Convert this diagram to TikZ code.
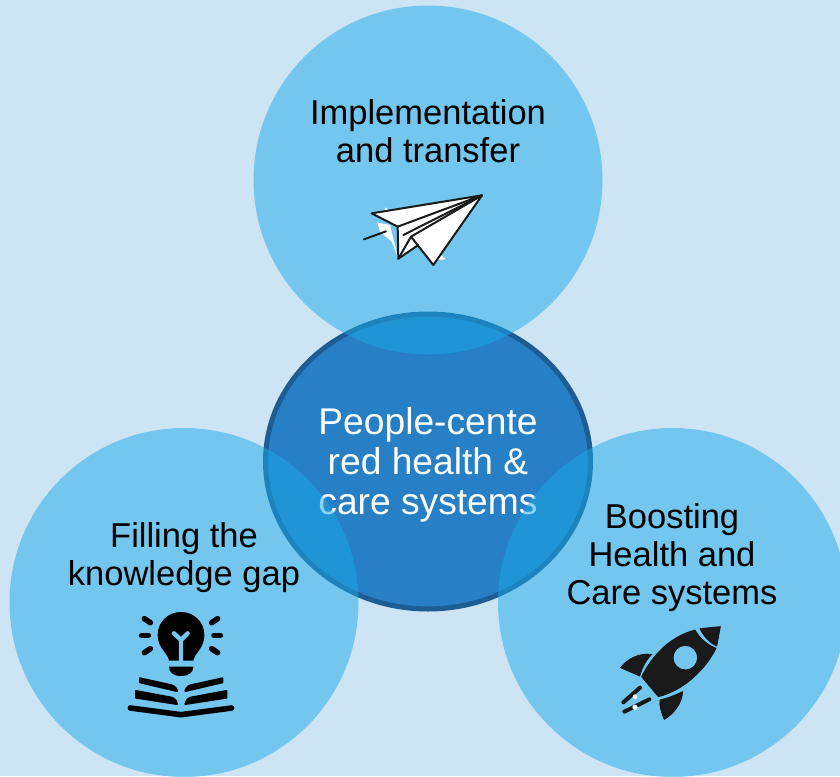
\documentclass[tikz,border=0pt]{standalone}
\usepackage{fontspec}
\setmainfont{Liberation Sans}
\usetikzlibrary{shapes.geometric}
\definecolor{bgc}{RGB}{205,228,245}
\definecolor{petal}{RGB}{27,170,231}
\definecolor{hub}{RGB}{39,128,198}
\definecolor{hubline}{RGB}{30,92,148}
\definecolor{ink}{RGB}{0,0,0}
\definecolor{rock}{RGB}{26,26,26}
\definecolor{petalon}{RGB}{116,199,238}
\tikzset{
  petalc/.style={circle,fill=petal,fill opacity=.5,draw=none,minimum size=349pt,inner sep=0pt},
  hubc/.style={ellipse,fill=hub,draw=hubline,line width=5pt,minimum width=325pt,minimum height=295pt,inner sep=0pt},
  lab/.style={align=center,text=ink,font=\fontsize{34.5}{38}\selectfont,inner sep=0pt},
  hublab/.style={align=center,text=white,font=\fontsize{37.2}{40}\selectfont,inner sep=0pt},
  ic/.style={line width=5.6pt,line cap=round,draw=black},
  pl/.style={draw=rock,line width=2pt,line join=round,line cap=round},
  pg/.style={fill=black,draw=black,line width=2pt,line join=round},
  rk/.style={fill=rock,draw=rock,line width=.9pt,line join=round},
}
\begin{document}
\begin{tikzpicture}[x=1pt,y=-1pt]
\clip (0,0) rectangle (840,776);
\fill[bgc] (0,0) rectangle (840,776);
\node[hubc] (hub) at (428,461.5) {};
\node[hublab] (hubt) at (428,465) {People-cente\\red health \&\\care systems};
\node[petalc] (top) at (428,180) {};
\node[petalc] (left) at (184,602.5) {};
\node[petalc] (right) at (672.5,602.5) {};
\node[lab] (topt) at (428,131) {Implementation\\and transfer};
\node[lab] (leftt) at (184,558) {Filling the\\knowledge gap};
\node[lab] (rightt) at (672,558) {Boosting\\Health and\\Care systems};
% paper plane
\begin{scope}[shift={(350,180)},x=1/3pt,y=-1/3pt]
\fill[white] (108,82) -- (116,92) -- (100,96) -- cycle;
\fill[white] (82,128) -- (120,135) -- (145,236) -- (125,185) -- (90,155) -- cycle;
\fill[white] (262,215) -- (287,238) -- (255,240) -- cycle;
\fill[white] (396,46) -- (65,100) -- (143,140) -- (145,236) -- (205,195) -- (250,255) -- cycle;
\draw[pl] (396,46) -- (65,100) -- (143,140) -- (396,46);
\draw[pl] (396,46) -- (250,255) -- (183,170) -- (396,46);
\draw[pl] (143,140) -- (145,236) -- (205,195);
\draw[pl] (145,236) -- (183,170);
\draw[pl] (160,165) -- (396,46);
\draw[pl] (42,178) -- (108,154);
\end{scope}
% bulb and book
\begin{scope}[shift={(115,600)},x=1/3pt,y=-1/3pt]
\fill[black] (162,182) .. controls (160,160) and (128,145) .. (128,105) .. controls (128,65) and (160,36) .. (198,36) .. controls (236,36) and (268,65) .. (268,105) .. controls (268,145) and (238,160) .. (235,182) -- cycle;
\draw[petalon,line width=4.4pt,line cap=round,line join=round] (198,182) -- (198,120) -- (177,100);
\draw[petalon,line width=4.4pt,line cap=round,line join=round] (198,120) -- (218,100);
\fill[black] (162,200) -- (235,200) .. controls (235,218) and (220,228) .. (198,228) .. controls (176,228) and (162,218) .. (162,200) -- cycle;
\draw[ic] (88,56) -- (106,68);
\draw[ic] (80,106) -- (100,106);
\draw[ic] (88,158) -- (106,146);
\draw[ic] (290,68) -- (308,56);
\draw[ic] (297,106) -- (316,106);
\draw[ic] (290,146) -- (308,158);
\path[pg] (75,235) -- (170,256) .. controls (180,260) and (185,266) .. (186,273) -- (75,247) -- cycle;
\path[pg] (322,235) -- (227,256) .. controls (217,260) and (212,266) .. (211,273) -- (322,247) -- cycle;
\path[pg] (63,273) -- (170,293) .. controls (180,297) and (185,304) .. (186,312) -- (63,293) -- cycle;
\path[pg] (334,273) -- (227,293) .. controls (217,297) and (212,304) .. (211,312) -- (334,293) -- cycle;
\draw[black,line width=5.6pt,line cap=round,line join=round] (46,324) -- (198,344) -- (350,324);
\end{scope}
% rocket
\begin{scope}[shift={(605,615)},x=1/3pt,y=-1/3pt]
\path[rk,even odd rule] (270,45) .. controls (198,64) and (144,117) .. (110,185) -- (160,245) .. controls (236,226) and (300,165) .. (333,100) .. controls (308,90) and (283,70) .. (270,45) -- cycle
 (241,128) circle[radius=37];
\path[rk] (285,41) -- (346,35) -- (335,93) .. controls (314,83) and (296,64) .. (285,41) -- cycle;
\path[rk] (47,158) .. controls (67,132) and (100,114) .. (140,118) .. controls (123,135) and (110,160) .. (104,183) -- cycle;
\path[rk] (233,230) .. controls (210,241) and (190,249) .. (165,255) .. controls (162,270) and (171,298) .. (178,313) .. controls (208,295) and (230,265) .. (233,230) -- cycle;
\draw[rock,line width=4pt,line cap=round] (55,262) -- (105,218);
\draw[rock,line width=4pt,line cap=round] (58,290) -- (133,253);
\fill[white] (90,245) circle[radius=7];
\fill[white] (90,277) circle[radius=8];
\end{scope}
\end{tikzpicture}
\end{document}
